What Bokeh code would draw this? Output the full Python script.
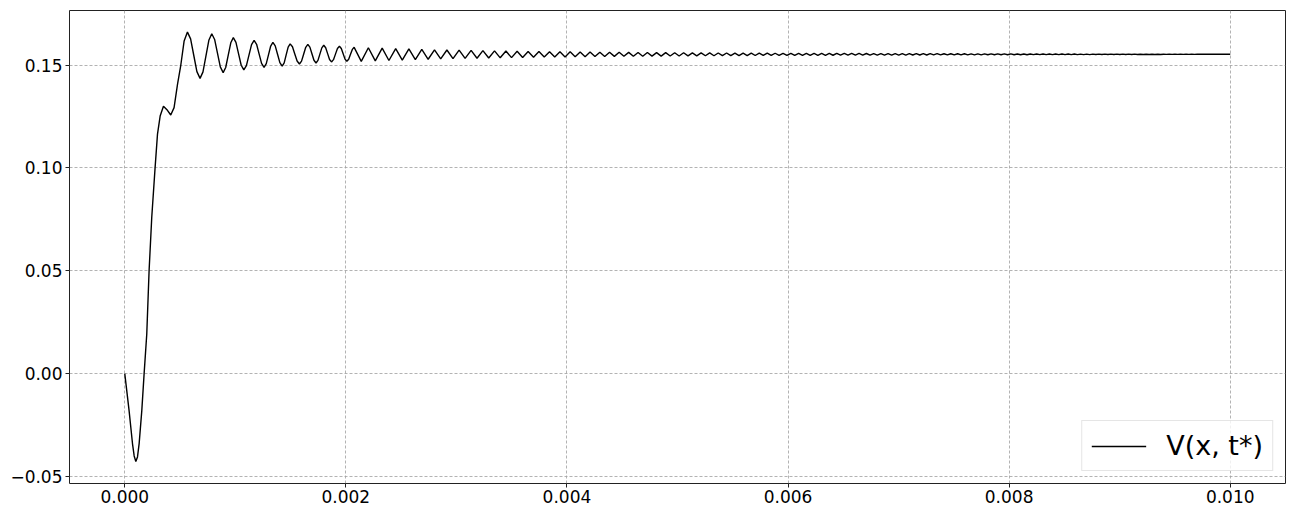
from bokeh.plotting import figure
from bokeh.models import Range1d, FixedTicker, CustomJSTickFormatter, Legend, LegendItem, ColumnDataSource
from bokeh.embed import file_html
from bokeh.resources import INLINE

# ---- data ----
x_ticks = [0.0, 0.002, 0.004, 0.006, 0.008, 0.010]
y_ticks = [-0.05, 0.0, 0.05, 0.10, 0.15]
series_label = "V(x, t*)"

# initial dip, rise, shoulder and first large oscillations (up to t = 0.002075)
t_rise = [0.0, 0.000039, 0.000070, 0.000085, 0.000100, 0.000115, 0.000130, 0.000154, 0.000175,
          0.000199, 0.000220, 0.000244, 0.000274, 0.000296, 0.000320, 0.000350, 0.000386,
          0.000416, 0.000446, 0.000477, 0.000507, 0.000537,
          0.000567, 0.0005955, 0.000624, 0.0006525, 0.000681, 0.0007075, 0.000734, 0.0007605,
          0.000787, 0.00081275, 0.0008385, 0.00086425, 0.000890, 0.000913, 0.000936, 0.000959,
          0.000982, 0.00100575, 0.0010295, 0.00105325, 0.001077, 0.00110025, 0.0011235, 0.00114675,
          0.001170, 0.0011925, 0.001215, 0.0012375, 0.001260, 0.00128, 0.0013, 0.00132,
          0.001340, 0.001361, 0.001382, 0.001403, 0.001424, 0.001442, 0.00146, 0.001478,
          0.001496, 0.001517, 0.001538, 0.001559, 0.001580, 0.001599, 0.001618, 0.001637,
          0.001656, 0.0016745, 0.001693, 0.0017115, 0.001730, 0.0017475, 0.001765, 0.0017825,
          0.0018, 0.0018175, 0.001835, 0.0018525, 0.00187, 0.001888, 0.001906, 0.001924,
          0.001942, 0.00195875, 0.0019755, 0.00199225, 0.002009, 0.0020255, 0.002042, 0.0020585,
          0.002075]
v_rise = [0.0, -0.0180, -0.0341, -0.0400, -0.0427, -0.0405, -0.0340, -0.0180, 0.0,
          0.0193, 0.0500, 0.0759, 0.0999, 0.1164, 0.1252, 0.1300, 0.1280,
          0.1257, 0.1293, 0.1406, 0.1500, 0.1617,
          0.1660, 0.16271, 0.15475, 0.14679, 0.1435, 0.14668, 0.15435, 0.16202,
          0.1652, 0.16243, 0.15575, 0.14907, 0.1463, 0.14879, 0.15480, 0.16081,
          0.1633, 0.16100, 0.15545, 0.14990, 0.1476, 0.14971, 0.15480, 0.15989,
          0.1620, 0.16008, 0.15545, 0.15082, 0.1489, 0.15067, 0.15495, 0.15923,
          0.1610, 0.15932, 0.15525, 0.15118, 0.1495, 0.15108, 0.15490, 0.15872,
          0.1603, 0.15887, 0.15540, 0.15193, 0.1505, 0.15189, 0.15525, 0.15861,
          0.1600, 0.15868, 0.15550, 0.15232, 0.1510, 0.15226, 0.15530, 0.15834,
          0.1596, 0.15841, 0.15555, 0.15269, 0.1515, 0.15261, 0.15530, 0.15799,
          0.1591, 0.15803, 0.15545, 0.15287, 0.1518, 0.15280, 0.15520, 0.15760,
          0.1586]

# later ripple: peak and trough positions / values
peak_t = [0.0022036, 0.0023285, 0.0024507, 0.0025701, 0.0026869, 0.0028018, 0.0029140, 0.0030244,
          0.0031330, 0.0032398, 0.0033448, 0.0034480, 0.0035493, 0.0036489, 0.0037466, 0.0038425,
          0.0039367, 0.0040290, 0.0041195, 0.0042090, 0.0042977, 0.0043855, 0.0044724, 0.0045584,
          0.0046434, 0.0047276, 0.0048109, 0.0048932, 0.0049747, 0.0050552, 0.0051348, 0.0052136,
          0.0052914, 0.0053683, 0.0054443, 0.0055195, 0.0055937, 0.0056670, 0.0057394, 0.0058118,
          0.0058833, 0.0059548, 0.0060253, 0.0060959, 0.0061656, 0.0062353, 0.0063041, 0.0063729,
          0.0064407, 0.0065086, 0.0065756, 0.0066425, 0.0067086, 0.0067747, 0.0068398, 0.0069050,
          0.0069692, 0.0070335, 0.0070968, 0.0071602, 0.0072235, 0.0072860, 0.0073484, 0.0074109,
          0.0074724, 0.0075339, 0.0075955, 0.0076561, 0.0077167, 0.0077774, 0.0078371, 0.0078968,
          0.0079566, 0.0080154, 0.0080742, 0.0081330, 0.0081910, 0.0082489, 0.0083068, 0.0083638,
          0.0084208, 0.0084778, 0.0085339, 0.0085900, 0.0086462, 0.0087014, 0.0087566, 0.0088118,
          0.0088661, 0.0089204, 0.0089747, 0.0090281, 0.0090814, 0.0091348, 0.0091873, 0.0092398,
          0.0092923, 0.0093448, 0.0093964, 0.0094480, 0.0094995, 0.0095502, 0.0096009, 0.0096516,
          0.0097014]
peak_v = [0.1584, 0.1582, 0.1580, 0.1578, 0.1576, 0.1574, 0.1573, 0.1572,
          0.1571, 0.1570, 0.1569, 0.1568, 0.1567, 0.1566, 0.15655, 0.1565,
          0.15645, 0.1564, 0.15635, 0.1563, 0.15625, 0.1562, 0.15617, 0.15614,
          0.15611, 0.15608, 0.15605, 0.15602, 0.15599, 0.15596, 0.15593, 0.1559,
          0.15588, 0.15586, 0.15584, 0.15582, 0.1558, 0.15578, 0.15576, 0.15574,
          0.15572, 0.15571, 0.1557, 0.15569, 0.15568, 0.15567, 0.15566, 0.15565,
          0.15564, 0.15563, 0.15562, 0.15561, 0.1556, 0.15559, 0.15558, 0.15557,
          0.15556, 0.15555, 0.15554, 0.15553, 0.15552, 0.15551, 0.1555, 0.15549,
          0.15548, 0.15547, 0.15546, 0.15545, 0.15544, 0.15543, 0.15542, 0.15541,
          0.1554, 0.15539, 0.15538, 0.15538, 0.15537, 0.15536, 0.15536, 0.15535,
          0.15535, 0.15534, 0.15533, 0.15533, 0.15532, 0.15532, 0.15531, 0.15531,
          0.1553, 0.1553, 0.15529, 0.15529, 0.15528, 0.15528, 0.15527, 0.15527,
          0.15526, 0.15526, 0.15525, 0.15525, 0.15525, 0.15524, 0.15524, 0.15523,
          0.15523]
trough_t = [0.0021393, 0.0022661, 0.0023896, 0.0025104, 0.0026285, 0.0027444, 0.0028579, 0.0029692,
            0.0030787, 0.0031864, 0.0032923, 0.0033964, 0.0034987, 0.0035991, 0.0036978, 0.0037946,
            0.0038896, 0.0039829, 0.0040743, 0.0041643, 0.0042534, 0.0043416, 0.0044290, 0.0045154,
            0.0046009, 0.0046855, 0.0047693, 0.0048521, 0.0049340, 0.0050150, 0.0050950, 0.0051742,
            0.0052525, 0.0053299, 0.0054063, 0.0054819, 0.0055566, 0.0056304, 0.0057032, 0.0057756,
            0.0058476, 0.0059191, 0.0059901, 0.0060606, 0.0061308, 0.0062005, 0.0062697, 0.0063385,
            0.0064068, 0.0064747, 0.0065421, 0.0066091, 0.0066756, 0.0067417, 0.0068073, 0.0068724,
            0.0069371, 0.0070014, 0.0070652, 0.0071285, 0.0071919, 0.0072548, 0.0073172, 0.0073797,
            0.0074417, 0.0075032, 0.0075647, 0.0076258, 0.0076864, 0.0077471, 0.0078073, 0.0078670,
            0.0079267, 0.0079860, 0.0080448, 0.0081036, 0.0081620, 0.0082200, 0.0082779, 0.0083353,
            0.0083923, 0.0084493, 0.0085059, 0.0085620, 0.0086181, 0.0086738, 0.0087290, 0.0087842,
            0.0088390, 0.0088933, 0.0089476, 0.0090014, 0.0090548, 0.0091081, 0.0091611, 0.0092136,
            0.0092661, 0.0093186, 0.0093706, 0.0094222, 0.0094738, 0.0095249, 0.0095756, 0.0096263,
            0.0096765]
trough_v = [0.1518, 0.1520, 0.1522, 0.1524, 0.1526, 0.1528, 0.1530, 0.1531,
            0.1532, 0.1533, 0.1534, 0.1535, 0.1536, 0.1537, 0.1538, 0.15385,
            0.1539, 0.15395, 0.1540, 0.15405, 0.1541, 0.15415, 0.1542, 0.15423,
            0.15426, 0.15429, 0.15432, 0.15435, 0.15438, 0.15441, 0.15444, 0.15447,
            0.1545, 0.15452, 0.15454, 0.15456, 0.15458, 0.1546, 0.15462, 0.15464,
            0.15466, 0.15468, 0.15469, 0.1547, 0.15471, 0.15472, 0.15473, 0.15474,
            0.15475, 0.15476, 0.15477, 0.15478, 0.15479, 0.1548, 0.15481, 0.15482,
            0.15483, 0.15484, 0.15485, 0.15486, 0.15487, 0.15488, 0.15489, 0.1549,
            0.15491, 0.15492, 0.15493, 0.15494, 0.15495, 0.15496, 0.15497, 0.15498,
            0.15499, 0.155, 0.15501, 0.15502, 0.15502, 0.15503, 0.15504, 0.15504,
            0.15505, 0.15505, 0.15506, 0.15507, 0.15507, 0.15508, 0.15508, 0.15509,
            0.15509, 0.1551, 0.1551, 0.15511, 0.15511, 0.15512, 0.15512, 0.15513,
            0.15513, 0.15514, 0.15514, 0.15515, 0.15515, 0.15515, 0.15516, 0.15516,
            0.15517]

# settled tail
t_tail = [0.00985, 0.0100]
v_tail = [0.1552, 0.1552]

# ---- assemble the series (ordering only) ----
ripple = sorted(list(zip(peak_t, peak_v)) + list(zip(trough_t, trough_v)))
t_all = list(t_rise) + [a for a, b in ripple] + list(t_tail)
v_all = list(v_rise) + [b for a, b in ripple] + list(v_tail)
src = ColumnDataSource(dict(t=t_all, v=v_all))

FONT = "DejaVu Sans"

p = figure(width=1290, height=507, output_backend="svg", toolbar_location=None,
           x_range=Range1d(-0.0005, 0.0105), y_range=Range1d(-0.0534, 0.1765),
           min_border_left=69, min_border_right=5, min_border_top=10, min_border_bottom=24)
p.background_fill_color = "white"
p.border_fill_color = "white"
p.outline_line_color = "#222222"
p.outline_line_width = 1

r = p.line("t", "v", source=src, line_color="black", line_width=1.4)

for ax, ticks, fmt in ((p.xaxis[0], x_ticks, 3), (p.yaxis[0], y_ticks, 2)):
    ax.ticker = FixedTicker(ticks=ticks)
    ax.formatter = CustomJSTickFormatter(
        code="return tick.toFixed(%d).replace('-', '\\u2212');" % fmt)
    ax.axis_line_color = None
    ax.major_tick_line_color = "#222222"
    ax.major_tick_out = 4
    ax.major_tick_in = 0
    ax.minor_tick_line_color = None
    ax.major_label_text_font = FONT
    ax.major_label_text_font_size = "17px"
    ax.major_label_text_color = "black"
    ax.major_label_standoff = 3
p.xaxis[0].major_label_standoff = 2

for g in (p.xgrid[0], p.ygrid[0]):
    g.grid_line_color = "#a0a0a0"
    g.grid_line_dash = "3 2"
    g.grid_line_width = 0.8

legend = Legend(items=[LegendItem(label=series_label, renderers=[r])],
                location="bottom_right", margin=12, padding=9,
                glyph_width=55, glyph_height=26, label_standoff=20,
                label_text_font=FONT, label_text_font_size="27px",
                label_text_color="black",
                border_line_color="#cccccc", border_line_width=1,
                background_fill_color="white", background_fill_alpha=0.8)
p.add_layout(legend)

open("out.html", "w").write(file_html(p, INLINE))
